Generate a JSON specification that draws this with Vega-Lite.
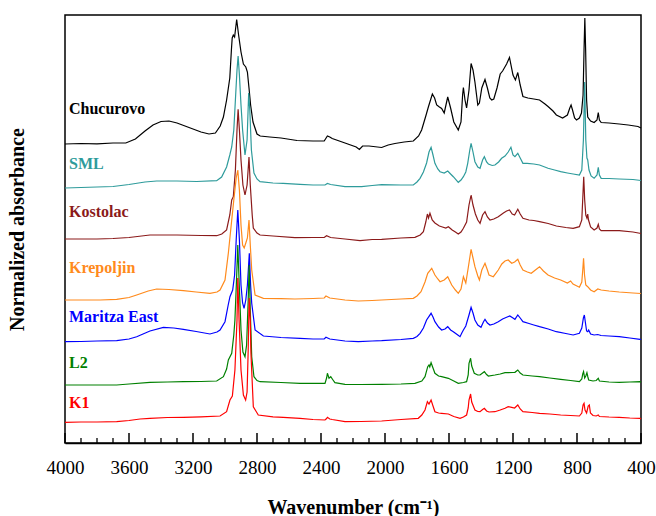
{
"$schema":"https://vega.github.io/schema/vega-lite/v6.json",
"width":576,"height":428,
"autosize":{"type":"none"},
"padding":{"left":65,"top":15,"right":15,"bottom":73},
"background":"white",
"config":{"view":{"stroke":"black","strokeWidth":1.5},"font":"Liberation Serif"},
"datasets":{
"ticks":[
{"t":4000,"k":"major"},{"t":3900,"k":"minor"},{"t":3800,"k":"minor"},{"t":3700,"k":"minor"},{"t":3600,"k":"major"},{"t":3500,"k":"minor"},{"t":3400,"k":"minor"},{"t":3300,"k":"minor"},{"t":3200,"k":"major"},{"t":3100,"k":"minor"},{"t":3000,"k":"minor"},{"t":2900,"k":"minor"},{"t":2800,"k":"major"},{"t":2700,"k":"minor"},{"t":2600,"k":"minor"},{"t":2500,"k":"minor"},{"t":2400,"k":"major"},{"t":2300,"k":"minor"},{"t":2200,"k":"minor"},{"t":2100,"k":"minor"},{"t":2000,"k":"major"},{"t":1900,"k":"minor"},{"t":1800,"k":"minor"},{"t":1700,"k":"minor"},{"t":1600,"k":"major"},{"t":1500,"k":"minor"},{"t":1400,"k":"minor"},{"t":1300,"k":"minor"},{"t":1200,"k":"major"},{"t":1100,"k":"minor"},{"t":1000,"k":"minor"},{"t":900,"k":"minor"},{"t":800,"k":"major"},{"t":700,"k":"minor"},{"t":600,"k":"minor"},{"t":500,"k":"minor"},{"t":400,"k":"major"}
],
"labels":[
{"s":"Chucurovo","w":3975,"a":334},
{"s":"SML","w":3975,"a":279},
{"s":"Kostolac","w":3975,"a":231},
{"s":"Krepoljin","w":3975,"a":175},
{"s":"Maritza East","w":3975,"a":126},
{"s":"L2","w":3975,"a":80},
{"s":"K1","w":3975,"a":40}
],
"spectra":[
{"s":"Chucurovo","w":4000,"a":299},{"s":"Chucurovo","w":3900,"a":299.5},{"s":"Chucurovo","w":3800,"a":299.2},{"s":"Chucurovo","w":3700,"a":300},{"s":"Chucurovo","w":3620,"a":300},{"s":"Chucurovo","w":3560,"a":304},{"s":"Chucurovo","w":3500,"a":312},{"s":"Chucurovo","w":3450,"a":318},{"s":"Chucurovo","w":3400,"a":321.5},{"s":"Chucurovo","w":3350,"a":322},{"s":"Chucurovo","w":3300,"a":320},{"s":"Chucurovo","w":3250,"a":317},{"s":"Chucurovo","w":3200,"a":314},{"s":"Chucurovo","w":3150,"a":311},{"s":"Chucurovo","w":3100,"a":309},{"s":"Chucurovo","w":3060,"a":310},{"s":"Chucurovo","w":3030,"a":317},{"s":"Chucurovo","w":3010,"a":326},{"s":"Chucurovo","w":2990,"a":343},{"s":"Chucurovo","w":2970,"a":365},{"s":"Chucurovo","w":2960,"a":393},{"s":"Chucurovo","w":2955,"a":405},{"s":"Chucurovo","w":2948,"a":408},{"s":"Chucurovo","w":2940,"a":406},{"s":"Chucurovo","w":2927,"a":423.5},{"s":"Chucurovo","w":2915,"a":408},{"s":"Chucurovo","w":2900,"a":391},{"s":"Chucurovo","w":2885,"a":379},{"s":"Chucurovo","w":2870,"a":376},{"s":"Chucurovo","w":2860,"a":371},{"s":"Chucurovo","w":2850,"a":355},{"s":"Chucurovo","w":2840,"a":338},{"s":"Chucurovo","w":2825,"a":321},{"s":"Chucurovo","w":2800,"a":309},{"s":"Chucurovo","w":2780,"a":307},{"s":"Chucurovo","w":2720,"a":306},{"s":"Chucurovo","w":2650,"a":305},{"s":"Chucurovo","w":2550,"a":302.5},{"s":"Chucurovo","w":2450,"a":302},{"s":"Chucurovo","w":2380,"a":302},{"s":"Chucurovo","w":2360,"a":307},{"s":"Chucurovo","w":2345,"a":306},{"s":"Chucurovo","w":2330,"a":304.5},{"s":"Chucurovo","w":2250,"a":300},{"s":"Chucurovo","w":2180,"a":296},{"s":"Chucurovo","w":2160,"a":293.5},{"s":"Chucurovo","w":2140,"a":297},{"s":"Chucurovo","w":2100,"a":297},{"s":"Chucurovo","w":2021,"a":295.5},{"s":"Chucurovo","w":1980,"a":298},{"s":"Chucurovo","w":1938,"a":299.5},{"s":"Chucurovo","w":1880,"a":301},{"s":"Chucurovo","w":1823,"a":302},{"s":"Chucurovo","w":1790,"a":307},{"s":"Chucurovo","w":1771,"a":313},{"s":"Chucurovo","w":1745,"a":327},{"s":"Chucurovo","w":1729,"a":336},{"s":"Chucurovo","w":1704,"a":349},{"s":"Chucurovo","w":1690,"a":345},{"s":"Chucurovo","w":1677,"a":338},{"s":"Chucurovo","w":1660,"a":336},{"s":"Chucurovo","w":1646,"a":334.5},{"s":"Chucurovo","w":1630,"a":330},{"s":"Chucurovo","w":1608,"a":346},{"s":"Chucurovo","w":1590,"a":335},{"s":"Chucurovo","w":1570,"a":321},{"s":"Chucurovo","w":1542,"a":313},{"s":"Chucurovo","w":1525,"a":321},{"s":"Chucurovo","w":1515,"a":348},{"s":"Chucurovo","w":1510,"a":355.5},{"s":"Chucurovo","w":1500,"a":343},{"s":"Chucurovo","w":1490,"a":335},{"s":"Chucurovo","w":1475,"a":353},{"s":"Chucurovo","w":1462,"a":379.5},{"s":"Chucurovo","w":1450,"a":373},{"s":"Chucurovo","w":1438,"a":361},{"s":"Chucurovo","w":1420,"a":338},{"s":"Chucurovo","w":1410,"a":340},{"s":"Chucurovo","w":1395,"a":355},{"s":"Chucurovo","w":1375,"a":363.5},{"s":"Chucurovo","w":1360,"a":355},{"s":"Chucurovo","w":1345,"a":345},{"s":"Chucurovo","w":1333,"a":343},{"s":"Chucurovo","w":1320,"a":344},{"s":"Chucurovo","w":1300,"a":355},{"s":"Chucurovo","w":1280,"a":369},{"s":"Chucurovo","w":1265,"a":372},{"s":"Chucurovo","w":1240,"a":379},{"s":"Chucurovo","w":1222,"a":385.5},{"s":"Chucurovo","w":1200,"a":368},{"s":"Chucurovo","w":1185,"a":363},{"s":"Chucurovo","w":1170,"a":370.5},{"s":"Chucurovo","w":1155,"a":358},{"s":"Chucurovo","w":1138,"a":346.5},{"s":"Chucurovo","w":1107,"a":345},{"s":"Chucurovo","w":1070,"a":344},{"s":"Chucurovo","w":1034,"a":343},{"s":"Chucurovo","w":1000,"a":339},{"s":"Chucurovo","w":981,"a":336.5},{"s":"Chucurovo","w":950,"a":332},{"s":"Chucurovo","w":929,"a":328},{"s":"Chucurovo","w":890,"a":325},{"s":"Chucurovo","w":860,"a":328},{"s":"Chucurovo","w":845,"a":335},{"s":"Chucurovo","w":837,"a":338},{"s":"Chucurovo","w":828,"a":333},{"s":"Chucurovo","w":815,"a":325},{"s":"Chucurovo","w":803,"a":323},{"s":"Chucurovo","w":785,"a":325},{"s":"Chucurovo","w":772,"a":330},{"s":"Chucurovo","w":762,"a":348},{"s":"Chucurovo","w":756,"a":393},{"s":"Chucurovo","w":751,"a":425},{"s":"Chucurovo","w":746,"a":393},{"s":"Chucurovo","w":740,"a":343},{"s":"Chucurovo","w":733,"a":326},{"s":"Chucurovo","w":715,"a":322},{"s":"Chucurovo","w":693,"a":320.5},{"s":"Chucurovo","w":675,"a":323},{"s":"Chucurovo","w":667,"a":330.5},{"s":"Chucurovo","w":660,"a":323},{"s":"Chucurovo","w":649,"a":320.5},{"s":"Chucurovo","w":600,"a":320},{"s":"Chucurovo","w":536,"a":319},{"s":"Chucurovo","w":480,"a":318},{"s":"Chucurovo","w":419,"a":316.5},{"s":"Chucurovo","w":400,"a":315},
{"s":"SML","w":4000,"a":255},{"s":"SML","w":3900,"a":255.5},{"s":"SML","w":3800,"a":256},{"s":"SML","w":3700,"a":256.5},{"s":"SML","w":3600,"a":258.5},{"s":"SML","w":3500,"a":261},{"s":"SML","w":3427,"a":262},{"s":"SML","w":3300,"a":262},{"s":"SML","w":3177,"a":261.5},{"s":"SML","w":3052,"a":262.3},{"s":"SML","w":3021,"a":266},{"s":"SML","w":2990,"a":276},{"s":"SML","w":2970,"a":288},{"s":"SML","w":2958,"a":296},{"s":"SML","w":2945,"a":313},{"s":"SML","w":2935,"a":343},{"s":"SML","w":2925,"a":373},{"s":"SML","w":2918,"a":387},{"s":"SML","w":2910,"a":368},{"s":"SML","w":2900,"a":338},{"s":"SML","w":2890,"a":313},{"s":"SML","w":2875,"a":288},{"s":"SML","w":2862,"a":303},{"s":"SML","w":2852,"a":350},{"s":"SML","w":2845,"a":333},{"s":"SML","w":2835,"a":293},{"s":"SML","w":2819,"a":270},{"s":"SML","w":2800,"a":264},{"s":"SML","w":2781,"a":261.3},{"s":"SML","w":2700,"a":260},{"s":"SML","w":2636,"a":259.7},{"s":"SML","w":2531,"a":258.7},{"s":"SML","w":2450,"a":258},{"s":"SML","w":2375,"a":258},{"s":"SML","w":2360,"a":259.5},{"s":"SML","w":2340,"a":258.5},{"s":"SML","w":2250,"a":256.3},{"s":"SML","w":2146,"a":256.3},{"s":"SML","w":2080,"a":257.5},{"s":"SML","w":2021,"a":258.3},{"s":"SML","w":1900,"a":258},{"s":"SML","w":1823,"a":258},{"s":"SML","w":1800,"a":261},{"s":"SML","w":1781,"a":264.7},{"s":"SML","w":1760,"a":271},{"s":"SML","w":1740,"a":280},{"s":"SML","w":1725,"a":291},{"s":"SML","w":1712,"a":295.7},{"s":"SML","w":1700,"a":288},{"s":"SML","w":1688,"a":279.7},{"s":"SML","w":1670,"a":274},{"s":"SML","w":1656,"a":271.3},{"s":"SML","w":1630,"a":270},{"s":"SML","w":1608,"a":272},{"s":"SML","w":1590,"a":269},{"s":"SML","w":1573,"a":266.3},{"s":"SML","w":1542,"a":260.7},{"s":"SML","w":1525,"a":263},{"s":"SML","w":1510,"a":266.3},{"s":"SML","w":1495,"a":271},{"s":"SML","w":1483,"a":279.7},{"s":"SML","w":1470,"a":293},{"s":"SML","w":1462,"a":299.7},{"s":"SML","w":1450,"a":291},{"s":"SML","w":1438,"a":281.3},{"s":"SML","w":1420,"a":276},{"s":"SML","w":1406,"a":274.7},{"s":"SML","w":1390,"a":283},{"s":"SML","w":1379,"a":286.3},{"s":"SML","w":1365,"a":281},{"s":"SML","w":1354,"a":279},{"s":"SML","w":1330,"a":277.5},{"s":"SML","w":1313,"a":278},{"s":"SML","w":1290,"a":281},{"s":"SML","w":1271,"a":284.7},{"s":"SML","w":1250,"a":287},{"s":"SML","w":1230,"a":291},{"s":"SML","w":1213,"a":295.7},{"s":"SML","w":1200,"a":288},{"s":"SML","w":1188,"a":286.3},{"s":"SML","w":1170,"a":289.7},{"s":"SML","w":1155,"a":285},{"s":"SML","w":1138,"a":279.7},{"s":"SML","w":1112,"a":279.7},{"s":"SML","w":1070,"a":279},{"s":"SML","w":1034,"a":278},{"s":"SML","w":981,"a":274.7},{"s":"SML","w":940,"a":273},{"s":"SML","w":902,"a":271.3},{"s":"SML","w":860,"a":270},{"s":"SML","w":824,"a":269},{"s":"SML","w":785,"a":268},{"s":"SML","w":770,"a":273},{"s":"SML","w":760,"a":303},{"s":"SML","w":752,"a":361},{"s":"SML","w":745,"a":303},{"s":"SML","w":738,"a":285},{"s":"SML","w":733,"a":283},{"s":"SML","w":725,"a":273},{"s":"SML","w":712,"a":267},{"s":"SML","w":693,"a":264.7},{"s":"SML","w":675,"a":268},{"s":"SML","w":667,"a":275.7},{"s":"SML","w":660,"a":268},{"s":"SML","w":649,"a":264.7},{"s":"SML","w":600,"a":264.5},{"s":"SML","w":536,"a":264},{"s":"SML","w":450,"a":263.5},{"s":"SML","w":400,"a":262.5},
{"s":"Kostolac","w":4000,"a":204},{"s":"Kostolac","w":3900,"a":204},{"s":"Kostolac","w":3800,"a":204},{"s":"Kostolac","w":3700,"a":204.5},{"s":"Kostolac","w":3600,"a":205.5},{"s":"Kostolac","w":3469,"a":208},{"s":"Kostolac","w":3300,"a":208},{"s":"Kostolac","w":3150,"a":207.5},{"s":"Kostolac","w":3052,"a":207.3},{"s":"Kostolac","w":3020,"a":209},{"s":"Kostolac","w":2990,"a":213},{"s":"Kostolac","w":2970,"a":228},{"s":"Kostolac","w":2958,"a":243},{"s":"Kostolac","w":2948,"a":246.3},{"s":"Kostolac","w":2935,"a":273},{"s":"Kostolac","w":2925,"a":313},{"s":"Kostolac","w":2918,"a":333.7},{"s":"Kostolac","w":2910,"a":313},{"s":"Kostolac","w":2900,"a":283},{"s":"Kostolac","w":2888,"a":258},{"s":"Kostolac","w":2875,"a":248},{"s":"Kostolac","w":2862,"a":258},{"s":"Kostolac","w":2850,"a":286},{"s":"Kostolac","w":2842,"a":258},{"s":"Kostolac","w":2830,"a":228},{"s":"Kostolac","w":2823,"a":215},{"s":"Kostolac","w":2800,"a":210},{"s":"Kostolac","w":2781,"a":208},{"s":"Kostolac","w":2700,"a":207},{"s":"Kostolac","w":2563,"a":205.3},{"s":"Kostolac","w":2450,"a":205.5},{"s":"Kostolac","w":2380,"a":205.5},{"s":"Kostolac","w":2365,"a":207.3},{"s":"Kostolac","w":2340,"a":205.5},{"s":"Kostolac","w":2250,"a":204},{"s":"Kostolac","w":2156,"a":202.3},{"s":"Kostolac","w":2080,"a":203.5},{"s":"Kostolac","w":2021,"a":203.7},{"s":"Kostolac","w":1900,"a":205},{"s":"Kostolac","w":1813,"a":205.7},{"s":"Kostolac","w":1780,"a":208},{"s":"Kostolac","w":1760,"a":211.3},{"s":"Kostolac","w":1745,"a":221},{"s":"Kostolac","w":1735,"a":229},{"s":"Kostolac","w":1728,"a":225},{"s":"Kostolac","w":1719,"a":229.7},{"s":"Kostolac","w":1705,"a":223},{"s":"Kostolac","w":1688,"a":220},{"s":"Kostolac","w":1660,"a":217},{"s":"Kostolac","w":1646,"a":216.3},{"s":"Kostolac","w":1620,"a":215},{"s":"Kostolac","w":1604,"a":216.3},{"s":"Kostolac","w":1580,"a":213},{"s":"Kostolac","w":1560,"a":211},{"s":"Kostolac","w":1542,"a":209},{"s":"Kostolac","w":1525,"a":211},{"s":"Kostolac","w":1510,"a":214.7},{"s":"Kostolac","w":1490,"a":221},{"s":"Kostolac","w":1475,"a":238},{"s":"Kostolac","w":1462,"a":248},{"s":"Kostolac","w":1450,"a":238},{"s":"Kostolac","w":1435,"a":229},{"s":"Kostolac","w":1420,"a":223},{"s":"Kostolac","w":1406,"a":219.7},{"s":"Kostolac","w":1390,"a":228},{"s":"Kostolac","w":1375,"a":231.3},{"s":"Kostolac","w":1360,"a":226},{"s":"Kostolac","w":1344,"a":223},{"s":"Kostolac","w":1320,"a":224},{"s":"Kostolac","w":1292,"a":226.3},{"s":"Kostolac","w":1260,"a":230},{"s":"Kostolac","w":1240,"a":232},{"s":"Kostolac","w":1222,"a":233},{"s":"Kostolac","w":1205,"a":229},{"s":"Kostolac","w":1190,"a":228},{"s":"Kostolac","w":1170,"a":233.7},{"s":"Kostolac","w":1155,"a":229},{"s":"Kostolac","w":1138,"a":224.7},{"s":"Kostolac","w":1100,"a":223},{"s":"Kostolac","w":1070,"a":222.5},{"s":"Kostolac","w":1034,"a":221.3},{"s":"Kostolac","w":980,"a":219.5},{"s":"Kostolac","w":929,"a":217},{"s":"Kostolac","w":870,"a":215.5},{"s":"Kostolac","w":824,"a":214.7},{"s":"Kostolac","w":785,"a":216.3},{"s":"Kostolac","w":770,"a":223},{"s":"Kostolac","w":763,"a":248},{"s":"Kostolac","w":758,"a":266.3},{"s":"Kostolac","w":752,"a":243},{"s":"Kostolac","w":745,"a":228},{"s":"Kostolac","w":738,"a":225},{"s":"Kostolac","w":733,"a":229},{"s":"Kostolac","w":728,"a":223},{"s":"Kostolac","w":715,"a":216},{"s":"Kostolac","w":693,"a":213},{"s":"Kostolac","w":675,"a":215},{"s":"Kostolac","w":667,"a":218.7},{"s":"Kostolac","w":660,"a":214},{"s":"Kostolac","w":649,"a":212.3},{"s":"Kostolac","w":600,"a":212.3},{"s":"Kostolac","w":536,"a":212.3},{"s":"Kostolac","w":450,"a":211},{"s":"Kostolac","w":400,"a":209.5},
{"s":"Krepoljin","w":4000,"a":143},{"s":"Krepoljin","w":3900,"a":143},{"s":"Krepoljin","w":3781,"a":143},{"s":"Krepoljin","w":3677,"a":143.7},{"s":"Krepoljin","w":3600,"a":145.5},{"s":"Krepoljin","w":3552,"a":148},{"s":"Krepoljin","w":3480,"a":152},{"s":"Krepoljin","w":3427,"a":154},{"s":"Krepoljin","w":3350,"a":153.5},{"s":"Krepoljin","w":3260,"a":152.3},{"s":"Krepoljin","w":3180,"a":151},{"s":"Krepoljin","w":3094,"a":149.7},{"s":"Krepoljin","w":3050,"a":151},{"s":"Krepoljin","w":3031,"a":153},{"s":"Krepoljin","w":3000,"a":163},{"s":"Krepoljin","w":2979,"a":190},{"s":"Krepoljin","w":2958,"a":223},{"s":"Krepoljin","w":2945,"a":243},{"s":"Krepoljin","w":2930,"a":265},{"s":"Krepoljin","w":2920,"a":273},{"s":"Krepoljin","w":2910,"a":253},{"s":"Krepoljin","w":2900,"a":218},{"s":"Krepoljin","w":2890,"a":198},{"s":"Krepoljin","w":2880,"a":195},{"s":"Krepoljin","w":2870,"a":200},{"s":"Krepoljin","w":2860,"a":205},{"s":"Krepoljin","w":2850,"a":223},{"s":"Krepoljin","w":2842,"a":198},{"s":"Krepoljin","w":2833,"a":173},{"s":"Krepoljin","w":2812,"a":148},{"s":"Krepoljin","w":2760,"a":144.7},{"s":"Krepoljin","w":2650,"a":144.3},{"s":"Krepoljin","w":2563,"a":144},{"s":"Krepoljin","w":2450,"a":144.5},{"s":"Krepoljin","w":2380,"a":145},{"s":"Krepoljin","w":2369,"a":147},{"s":"Krepoljin","w":2345,"a":145},{"s":"Krepoljin","w":2250,"a":143},{"s":"Krepoljin","w":2167,"a":142},{"s":"Krepoljin","w":2080,"a":142.5},{"s":"Krepoljin","w":2021,"a":143},{"s":"Krepoljin","w":1900,"a":144},{"s":"Krepoljin","w":1823,"a":144.7},{"s":"Krepoljin","w":1800,"a":147},{"s":"Krepoljin","w":1775,"a":151.3},{"s":"Krepoljin","w":1750,"a":161},{"s":"Krepoljin","w":1733,"a":169.7},{"s":"Krepoljin","w":1708,"a":174.7},{"s":"Krepoljin","w":1688,"a":168},{"s":"Krepoljin","w":1670,"a":164},{"s":"Krepoljin","w":1656,"a":161.3},{"s":"Krepoljin","w":1630,"a":163},{"s":"Krepoljin","w":1608,"a":166.3},{"s":"Krepoljin","w":1595,"a":162},{"s":"Krepoljin","w":1583,"a":158},{"s":"Krepoljin","w":1560,"a":153},{"s":"Krepoljin","w":1542,"a":149.7},{"s":"Krepoljin","w":1525,"a":154},{"s":"Krepoljin","w":1510,"a":166.3},{"s":"Krepoljin","w":1495,"a":160},{"s":"Krepoljin","w":1480,"a":175},{"s":"Krepoljin","w":1462,"a":193.7},{"s":"Krepoljin","w":1450,"a":185},{"s":"Krepoljin","w":1438,"a":176.3},{"s":"Krepoljin","w":1420,"a":167},{"s":"Krepoljin","w":1410,"a":163},{"s":"Krepoljin","w":1395,"a":173},{"s":"Krepoljin","w":1375,"a":179.7},{"s":"Krepoljin","w":1360,"a":173},{"s":"Krepoljin","w":1350,"a":168},{"s":"Krepoljin","w":1323,"a":166.3},{"s":"Krepoljin","w":1292,"a":173},{"s":"Krepoljin","w":1270,"a":179},{"s":"Krepoljin","w":1250,"a":182},{"s":"Krepoljin","w":1230,"a":183},{"s":"Krepoljin","w":1208,"a":179.7},{"s":"Krepoljin","w":1190,"a":181},{"s":"Krepoljin","w":1170,"a":183.7},{"s":"Krepoljin","w":1155,"a":178},{"s":"Krepoljin","w":1138,"a":173},{"s":"Krepoljin","w":1110,"a":171},{"s":"Krepoljin","w":1086,"a":169.7},{"s":"Krepoljin","w":1060,"a":173},{"s":"Krepoljin","w":1034,"a":176.3},{"s":"Krepoljin","w":1010,"a":172},{"s":"Krepoljin","w":981,"a":168},{"s":"Krepoljin","w":940,"a":165},{"s":"Krepoljin","w":902,"a":163},{"s":"Krepoljin","w":860,"a":160},{"s":"Krepoljin","w":840,"a":162},{"s":"Krepoljin","w":825,"a":159},{"s":"Krepoljin","w":785,"a":155.7},{"s":"Krepoljin","w":770,"a":161},{"s":"Krepoljin","w":764,"a":173},{"s":"Krepoljin","w":759,"a":184.7},{"s":"Krepoljin","w":753,"a":168},{"s":"Krepoljin","w":745,"a":158},{"s":"Krepoljin","w":733,"a":156.3},{"s":"Krepoljin","w":715,"a":153},{"s":"Krepoljin","w":693,"a":151.3},{"s":"Krepoljin","w":670,"a":154},{"s":"Krepoljin","w":649,"a":153},{"s":"Krepoljin","w":600,"a":152},{"s":"Krepoljin","w":536,"a":151},{"s":"Krepoljin","w":450,"a":150},{"s":"Krepoljin","w":400,"a":149.5},
{"s":"Maritza East","w":4000,"a":101.3},{"s":"Maritza East","w":3900,"a":101.5},{"s":"Maritza East","w":3800,"a":102},{"s":"Maritza East","w":3677,"a":102.3},{"s":"Maritza East","w":3600,"a":104},{"s":"Maritza East","w":3552,"a":106.3},{"s":"Maritza East","w":3469,"a":112},{"s":"Maritza East","w":3385,"a":115.7},{"s":"Maritza East","w":3320,"a":115},{"s":"Maritza East","w":3260,"a":113.7},{"s":"Maritza East","w":3180,"a":111.5},{"s":"Maritza East","w":3094,"a":109},{"s":"Maritza East","w":3050,"a":111},{"s":"Maritza East","w":3031,"a":113},{"s":"Maritza East","w":3000,"a":121.3},{"s":"Maritza East","w":2980,"a":138},{"s":"Maritza East","w":2969,"a":146.3},{"s":"Maritza East","w":2952,"a":153},{"s":"Maritza East","w":2940,"a":168},{"s":"Maritza East","w":2930,"a":203},{"s":"Maritza East","w":2920,"a":233},{"s":"Maritza East","w":2910,"a":203},{"s":"Maritza East","w":2900,"a":158},{"s":"Maritza East","w":2890,"a":140},{"s":"Maritza East","w":2881,"a":134.7},{"s":"Maritza East","w":2870,"a":143},{"s":"Maritza East","w":2860,"a":158},{"s":"Maritza East","w":2848,"a":189.7},{"s":"Maritza East","w":2840,"a":158},{"s":"Maritza East","w":2833,"a":139.7},{"s":"Maritza East","w":2812,"a":113},{"s":"Maritza East","w":2760,"a":107},{"s":"Maritza East","w":2650,"a":105.5},{"s":"Maritza East","w":2531,"a":104.7},{"s":"Maritza East","w":2450,"a":104},{"s":"Maritza East","w":2380,"a":104},{"s":"Maritza East","w":2369,"a":105.7},{"s":"Maritza East","w":2345,"a":104},{"s":"Maritza East","w":2250,"a":102},{"s":"Maritza East","w":2167,"a":101.3},{"s":"Maritza East","w":2080,"a":102},{"s":"Maritza East","w":2021,"a":102.3},{"s":"Maritza East","w":1900,"a":103.5},{"s":"Maritza East","w":1823,"a":104.7},{"s":"Maritza East","w":1800,"a":106.5},{"s":"Maritza East","w":1781,"a":109.7},{"s":"Maritza East","w":1760,"a":115},{"s":"Maritza East","w":1740,"a":123},{"s":"Maritza East","w":1712,"a":129.7},{"s":"Maritza East","w":1700,"a":126},{"s":"Maritza East","w":1688,"a":121.3},{"s":"Maritza East","w":1665,"a":116},{"s":"Maritza East","w":1646,"a":113},{"s":"Maritza East","w":1625,"a":114},{"s":"Maritza East","w":1608,"a":116.3},{"s":"Maritza East","w":1590,"a":113},{"s":"Maritza East","w":1573,"a":111.3},{"s":"Maritza East","w":1545,"a":108},{"s":"Maritza East","w":1531,"a":106.3},{"s":"Maritza East","w":1520,"a":110},{"s":"Maritza East","w":1510,"a":113},{"s":"Maritza East","w":1495,"a":117},{"s":"Maritza East","w":1475,"a":128},{"s":"Maritza East","w":1462,"a":135.7},{"s":"Maritza East","w":1450,"a":130},{"s":"Maritza East","w":1438,"a":123},{"s":"Maritza East","w":1420,"a":118},{"s":"Maritza East","w":1400,"a":115.7},{"s":"Maritza East","w":1385,"a":121},{"s":"Maritza East","w":1375,"a":123.7},{"s":"Maritza East","w":1360,"a":120},{"s":"Maritza East","w":1344,"a":118},{"s":"Maritza East","w":1320,"a":119},{"s":"Maritza East","w":1292,"a":121.3},{"s":"Maritza East","w":1265,"a":124},{"s":"Maritza East","w":1240,"a":125.7},{"s":"Maritza East","w":1220,"a":127},{"s":"Maritza East","w":1200,"a":125},{"s":"Maritza East","w":1188,"a":123.7},{"s":"Maritza East","w":1170,"a":128},{"s":"Maritza East","w":1155,"a":125},{"s":"Maritza East","w":1138,"a":121.3},{"s":"Maritza East","w":1100,"a":119.5},{"s":"Maritza East","w":1070,"a":118},{"s":"Maritza East","w":1034,"a":116.3},{"s":"Maritza East","w":980,"a":114},{"s":"Maritza East","w":929,"a":111.3},{"s":"Maritza East","w":870,"a":109.5},{"s":"Maritza East","w":824,"a":108},{"s":"Maritza East","w":785,"a":109.7},{"s":"Maritza East","w":770,"a":115},{"s":"Maritza East","w":760,"a":125},{"s":"Maritza East","w":754,"a":128},{"s":"Maritza East","w":748,"a":121},{"s":"Maritza East","w":740,"a":112},{"s":"Maritza East","w":733,"a":111.3},{"s":"Maritza East","w":727,"a":113},{"s":"Maritza East","w":715,"a":109},{"s":"Maritza East","w":693,"a":108},{"s":"Maritza East","w":670,"a":108.5},{"s":"Maritza East","w":650,"a":107.5},{"s":"Maritza East","w":600,"a":107},{"s":"Maritza East","w":536,"a":106.3},{"s":"Maritza East","w":470,"a":105},{"s":"Maritza East","w":406,"a":103.7},{"s":"Maritza East","w":400,"a":103.5},
{"s":"L2","w":4000,"a":58},{"s":"L2","w":3900,"a":58},{"s":"L2","w":3800,"a":58},{"s":"L2","w":3677,"a":58},{"s":"L2","w":3600,"a":59},{"s":"L2","w":3469,"a":60.7},{"s":"L2","w":3360,"a":61},{"s":"L2","w":3260,"a":61.3},{"s":"L2","w":3150,"a":61.5},{"s":"L2","w":3052,"a":62},{"s":"L2","w":3010,"a":66.3},{"s":"L2","w":2990,"a":74},{"s":"L2","w":2979,"a":83},{"s":"L2","w":2958,"a":89.7},{"s":"L2","w":2945,"a":108},{"s":"L2","w":2938,"a":123},{"s":"L2","w":2928,"a":163},{"s":"L2","w":2920,"a":198},{"s":"L2","w":2912,"a":163},{"s":"L2","w":2900,"a":113},{"s":"L2","w":2888,"a":91},{"s":"L2","w":2875,"a":86.3},{"s":"L2","w":2865,"a":98},{"s":"L2","w":2855,"a":143},{"s":"L2","w":2849,"a":178},{"s":"L2","w":2842,"a":133},{"s":"L2","w":2833,"a":86.3},{"s":"L2","w":2819,"a":66.3},{"s":"L2","w":2800,"a":62.5},{"s":"L2","w":2781,"a":61.3},{"s":"L2","w":2650,"a":60.5},{"s":"L2","w":2531,"a":59.7},{"s":"L2","w":2450,"a":59.7},{"s":"L2","w":2375,"a":59.7},{"s":"L2","w":2365,"a":65},{"s":"L2","w":2360,"a":69.7},{"s":"L2","w":2350,"a":64.7},{"s":"L2","w":2339,"a":66.3},{"s":"L2","w":2325,"a":63},{"s":"L2","w":2313,"a":60.3},{"s":"L2","w":2250,"a":58.7},{"s":"L2","w":2150,"a":58.5},{"s":"L2","w":2021,"a":58.7},{"s":"L2","w":1900,"a":59},{"s":"L2","w":1813,"a":59.7},{"s":"L2","w":1770,"a":62},{"s":"L2","w":1750,"a":66.3},{"s":"L2","w":1733,"a":76.3},{"s":"L2","w":1725,"a":78},{"s":"L2","w":1720,"a":76},{"s":"L2","w":1712,"a":80.3},{"s":"L2","w":1700,"a":75},{"s":"L2","w":1688,"a":69.7},{"s":"L2","w":1665,"a":67},{"s":"L2","w":1646,"a":66.3},{"s":"L2","w":1604,"a":64.7},{"s":"L2","w":1570,"a":62},{"s":"L2","w":1542,"a":59.7},{"s":"L2","w":1510,"a":60.5},{"s":"L2","w":1490,"a":61.3},{"s":"L2","w":1480,"a":68},{"s":"L2","w":1475,"a":79.7},{"s":"L2","w":1465,"a":84.7},{"s":"L2","w":1458,"a":77},{"s":"L2","w":1442,"a":69.7},{"s":"L2","w":1420,"a":68},{"s":"L2","w":1406,"a":68},{"s":"L2","w":1390,"a":70},{"s":"L2","w":1379,"a":71.3},{"s":"L2","w":1365,"a":68.5},{"s":"L2","w":1354,"a":67},{"s":"L2","w":1313,"a":68},{"s":"L2","w":1280,"a":69},{"s":"L2","w":1250,"a":70.3},{"s":"L2","w":1230,"a":70.3},{"s":"L2","w":1200,"a":70.5},{"s":"L2","w":1188,"a":70.7},{"s":"L2","w":1170,"a":73},{"s":"L2","w":1155,"a":70},{"s":"L2","w":1138,"a":68},{"s":"L2","w":1080,"a":67},{"s":"L2","w":1034,"a":66.3},{"s":"L2","w":970,"a":65},{"s":"L2","w":902,"a":63.7},{"s":"L2","w":840,"a":62.5},{"s":"L2","w":785,"a":61.3},{"s":"L2","w":770,"a":64},{"s":"L2","w":764,"a":69},{"s":"L2","w":759,"a":71.3},{"s":"L2","w":752,"a":65},{"s":"L2","w":745,"a":67},{"s":"L2","w":738,"a":70.3},{"s":"L2","w":732,"a":66},{"s":"L2","w":727,"a":63},{"s":"L2","w":700,"a":62},{"s":"L2","w":680,"a":62.5},{"s":"L2","w":667,"a":64.7},{"s":"L2","w":660,"a":62},{"s":"L2","w":600,"a":61},{"s":"L2","w":536,"a":60.7},{"s":"L2","w":470,"a":61},{"s":"L2","w":406,"a":61.3},{"s":"L2","w":400,"a":61},
{"s":"K1","w":4000,"a":20.7},{"s":"K1","w":3900,"a":21},{"s":"K1","w":3800,"a":21},{"s":"K1","w":3677,"a":21.3},{"s":"K1","w":3600,"a":22.5},{"s":"K1","w":3531,"a":24},{"s":"K1","w":3469,"a":24.7},{"s":"K1","w":3360,"a":25.5},{"s":"K1","w":3260,"a":25.7},{"s":"K1","w":3150,"a":26.2},{"s":"K1","w":3031,"a":27},{"s":"K1","w":2990,"a":31.3},{"s":"K1","w":2969,"a":43},{"s":"K1","w":2954,"a":47},{"s":"K1","w":2938,"a":73},{"s":"K1","w":2925,"a":123},{"s":"K1","w":2920,"a":165},{"s":"K1","w":2912,"a":123},{"s":"K1","w":2900,"a":73},{"s":"K1","w":2885,"a":48},{"s":"K1","w":2871,"a":43},{"s":"K1","w":2862,"a":51},{"s":"K1","w":2855,"a":93},{"s":"K1","w":2849,"a":145},{"s":"K1","w":2842,"a":123},{"s":"K1","w":2838,"a":90},{"s":"K1","w":2823,"a":36.3},{"s":"K1","w":2792,"a":28},{"s":"K1","w":2700,"a":26.2},{"s":"K1","w":2636,"a":25.7},{"s":"K1","w":2531,"a":24.7},{"s":"K1","w":2450,"a":23.5},{"s":"K1","w":2375,"a":23},{"s":"K1","w":2365,"a":24.5},{"s":"K1","w":2360,"a":25.7},{"s":"K1","w":2345,"a":24},{"s":"K1","w":2330,"a":23.5},{"s":"K1","w":2250,"a":21.3},{"s":"K1","w":2150,"a":21.5},{"s":"K1","w":2021,"a":22},{"s":"K1","w":1900,"a":23.5},{"s":"K1","w":1792,"a":24.7},{"s":"K1","w":1770,"a":28},{"s":"K1","w":1750,"a":33},{"s":"K1","w":1735,"a":41.3},{"s":"K1","w":1725,"a":39},{"s":"K1","w":1712,"a":43},{"s":"K1","w":1700,"a":37},{"s":"K1","w":1688,"a":31.3},{"s":"K1","w":1665,"a":30},{"s":"K1","w":1646,"a":29.7},{"s":"K1","w":1604,"a":29},{"s":"K1","w":1570,"a":26.5},{"s":"K1","w":1531,"a":24.7},{"s":"K1","w":1510,"a":26},{"s":"K1","w":1490,"a":28},{"s":"K1","w":1480,"a":35},{"s":"K1","w":1475,"a":43},{"s":"K1","w":1465,"a":49},{"s":"K1","w":1458,"a":41},{"s":"K1","w":1438,"a":33},{"s":"K1","w":1420,"a":31.5},{"s":"K1","w":1406,"a":31.3},{"s":"K1","w":1390,"a":33.5},{"s":"K1","w":1379,"a":34.7},{"s":"K1","w":1365,"a":32},{"s":"K1","w":1350,"a":31},{"s":"K1","w":1313,"a":31.3},{"s":"K1","w":1280,"a":33},{"s":"K1","w":1250,"a":34.7},{"s":"K1","w":1230,"a":36.3},{"s":"K1","w":1208,"a":35.7},{"s":"K1","w":1190,"a":35},{"s":"K1","w":1170,"a":38},{"s":"K1","w":1155,"a":34},{"s":"K1","w":1138,"a":31.3},{"s":"K1","w":1080,"a":30.5},{"s":"K1","w":1034,"a":29.7},{"s":"K1","w":970,"a":29},{"s":"K1","w":902,"a":28},{"s":"K1","w":840,"a":27.5},{"s":"K1","w":785,"a":27},{"s":"K1","w":770,"a":30},{"s":"K1","w":762,"a":38},{"s":"K1","w":756,"a":39.7},{"s":"K1","w":750,"a":33},{"s":"K1","w":740,"a":30},{"s":"K1","w":730,"a":37},{"s":"K1","w":723,"a":38},{"s":"K1","w":716,"a":30},{"s":"K1","w":700,"a":27.5},{"s":"K1","w":680,"a":27},{"s":"K1","w":667,"a":28},{"s":"K1","w":660,"a":26.5},{"s":"K1","w":600,"a":26},{"s":"K1","w":536,"a":25.7},{"s":"K1","w":470,"a":25},{"s":"K1","w":406,"a":24.7},{"s":"K1","w":400,"a":24}
]},
"resolve":{"axis":{"x":"independent"}},
"layer":[
{"data":{"name":"spectra"},
 "mark":{"type":"line","strokeWidth":1.2},
 "encoding":{
  "x":{"field":"w","type":"quantitative","scale":{"domain":[4000,400],"nice":false,"zero":false},
   "axis":{"orient":"bottom","values":[4000,3600,3200,2800,2400,2000,1600,1200,800,400],"format":"d","ticks":false,"domainColor":"black","domainWidth":1.5,"grid":false,"labelPadding":15,"labelFontSize":19,"labelFont":"Liberation Serif","labelColor":"black","labelFlush":false,"labelOverlap":false,"labelBound":false,"title":"Wavenumber (cm⁻¹)","titleFontSize":20,"titleFont":"Liberation Serif","titleFontWeight":"bold","titleColor":"black","titleY":54,"titleBaseline":"top"}},
  "y":{"field":"a","type":"quantitative","scale":{"domain":[0,428],"nice":false,"zero":false},
   "axis":{"title":"Normalized absorbance","labels":false,"ticks":false,"domain":false,"grid":false,"minExtent":0,"titleFontSize":20,"titleFont":"Liberation Serif","titleFontWeight":"bold","titleColor":"black","titleX":-38,"titleBaseline":"bottom"}},
  "color":{"field":"s","type":"nominal","scale":{"domain":["Chucurovo","SML","Kostolac","Krepoljin","Maritza East","L2","K1"],"range":["#000000","#2E9B9B","#8B1A1A","#FF8A1C","#0000FF","#008000","#FF0000"]},"legend":null},
  "order":{"field":"w","type":"quantitative"}
 }},
{"data":{"name":"labels"},
 "mark":{"type":"text","align":"left","baseline":"middle","fontWeight":"bold","fontSize":16,"font":"Liberation Serif"},
 "encoding":{
  "x":{"field":"w","type":"quantitative","axis":null},
  "y":{"field":"a","type":"quantitative"},
  "text":{"field":"s"},
  "color":{"field":"s","type":"nominal","legend":null}
 }},
{"data":{"name":"ticks"},
 "transform":[{"filter":"datum.k === 'major'"}],
 "mark":{"type":"rule","color":"black","strokeWidth":1.5},
 "encoding":{
  "x":{"field":"t","type":"quantitative","axis":null},
  "y":{"datum":0},
  "y2":{"datum":10}
 }},
{"data":{"name":"ticks"},
 "transform":[{"filter":"datum.k === 'minor'"}],
 "mark":{"type":"rule","color":"black","strokeWidth":1.3},
 "encoding":{
  "x":{"field":"t","type":"quantitative","axis":null},
  "y":{"datum":0},
  "y2":{"datum":5}
 }}
]
}
